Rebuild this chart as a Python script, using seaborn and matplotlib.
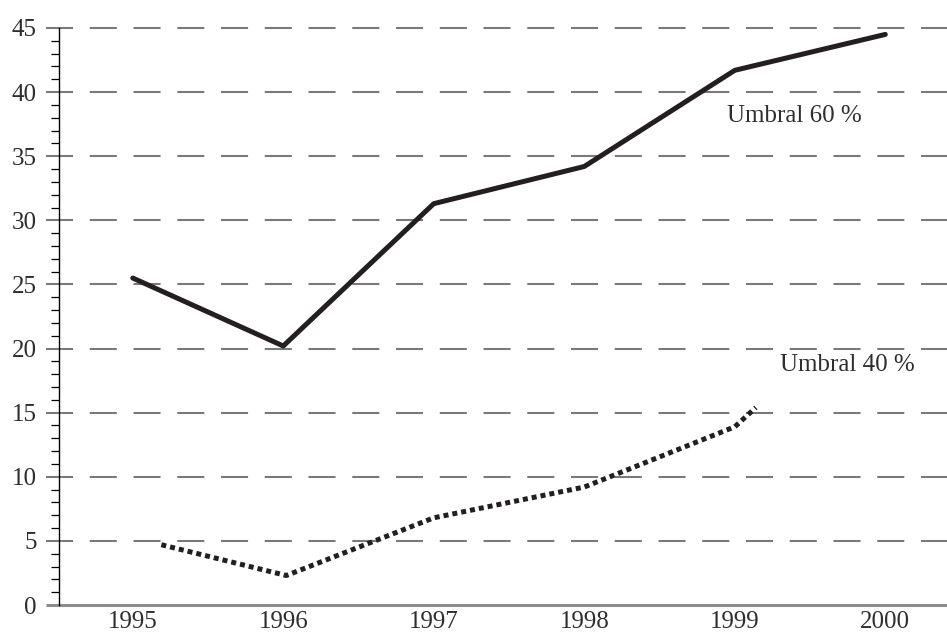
import numpy as np
import matplotlib
matplotlib.use("Agg")
import matplotlib.pyplot as plt
import seaborn as sns
import pandas as pd

# Datos
anios = [1995, 1996, 1997, 1998, 1999, 2000]
umbral_60 = [25.5, 20.2, 31.3, 34.2, 41.7, 44.5]

anios_40 = [1995.19, 1996.02, 1997, 1998, 1999, 1999.14]
umbral_40 = [4.7, 2.3, 6.8, 9.2, 13.9, 15.4]

yticks = [0, 5, 10, 15, 20, 25, 30, 35, 40, 45]

df60 = pd.DataFrame({"anio": anios, "valor": umbral_60})
df40 = pd.DataFrame({"anio": anios_40, "valor": umbral_40})

sns.set_style("white")
plt.rcParams["font.family"] = ["Liberation Serif", "DejaVu Serif"]

texto = "#2e2e2e"
gris = "#7a7a7a"
negro = "#231f20"

fig = plt.figure(figsize=(9.47, 6.36), dpi=100)
ax = fig.add_axes([59 / 947, 31 / 636, 888 / 947, 577 / 636])

# líneas de referencia discontinuas (salen un poco a la izquierda del eje)
ax.hlines(yticks[1:], -13 / 888, 1, transform=ax.get_yaxis_transform(),
          colors=gris, linewidth=1.5, linestyles=(0, (13, 8)), clip_on=False, zorder=1)
ax.hlines([0], -13 / 888, 1, transform=ax.get_yaxis_transform(),
          colors="#8c8c8c", linewidth=2.2, clip_on=False, zorder=1)

sns.lineplot(data=df60, x="anio", y="valor", ax=ax, color=negro, linewidth=3.6,
             sort=False, zorder=3)
l40 = sns.lineplot(data=df40, x="anio", y="valor", ax=ax, color=negro, linewidth=3.6,
                   sort=False, zorder=3).lines[-1]
l40.set_linestyle((0, (1.0, 0.8)))
l40.set_dash_capstyle("butt")

ax.set_xlim(1994.51, 2000.41)
ax.set_ylim(0, 45)
ax.set_xticks(anios)
ax.set_yticks(yticks)
ax.set_yticks(np.arange(0, 46, 1), minor=True)
ax.set_xlabel("")
ax.set_ylabel("")

for s in ["top", "right", "bottom"]:
    ax.spines[s].set_visible(False)
ax.spines["left"].set_color("black")
ax.spines["left"].set_linewidth(1.0)

ax.tick_params(axis="x", length=0, pad=4, labelsize=18, labelcolor=texto)
ax.tick_params(axis="y", which="major", length=0, pad=16, labelsize=18, labelcolor=texto)
ax.tick_params(axis="y", which="minor", left=True, length=6, width=0.9, color="black")

ax.text(1998.95, 38.1, "Umbral 60 %", fontsize=18, color=texto, va="center", ha="left")
ax.text(1999.3, 18.7, "Umbral 40 %", fontsize=18, color=texto, va="center", ha="left")

fig.savefig("out.png", dpi=100)
